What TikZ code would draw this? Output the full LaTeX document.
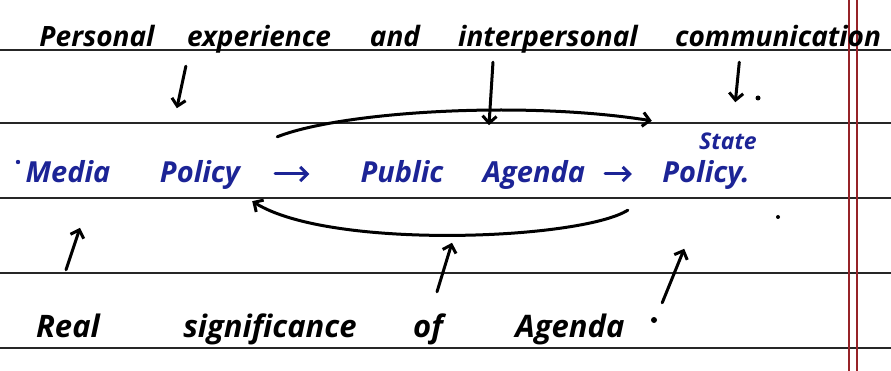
\documentclass[tikz,border=0pt]{standalone}
\usepackage{fontspec}
\setmainfont{Open Sans}
\usetikzlibrary{arrows.meta}
\definecolor{inkblue}{RGB}{28,36,150}
\definecolor{margred}{RGB}{150,35,40}

\tikzset{
	word/.style={inner sep=0pt, anchor=base, text height=22pt, text depth=4pt,
		font=\bfseries\itshape\fontsize{28}{30}\selectfont},
	blueword/.style={word, color=inkblue, font=\bfseries\itshape\fontsize{29}{32}\selectfont},
	bigword/.style={word, font=\bfseries\itshape\fontsize{31}{34}\selectfont},
	pen/.style={line width=3pt, line cap=round, line join=round},
	pen arrow/.style={pen, -{Straight Barb[length=7pt,width=14pt]}},
	rule/.style={line width=1.8pt, color=black!85},
}

\begin{document}
\begin{tikzpicture}[x=1pt,y=-1pt]
		%%%%% START %%%%%
		
		\useasboundingbox[fill=white] (0,0) rectangle (891,371);
		
		% ruled paper
		\foreach \y in {50,123,198,273,348}
			\draw[rule] (0,\y) -- (891,\y);
		\draw[line width=1.3pt, color=margred] (849,0) -- (849,371);
		\draw[line width=1.3pt, color=margred] (857,0) -- (857,371);
		
		% top row
		\node[word, minimum width=110pt] (personal) at (97,47) {Personal};
		\node[word, minimum width=142pt] (experience) at (259,47) {experience};
		\node[word, minimum width=50pt] (and) at (395,47) {and};
		\node[word, minimum width=173pt] (interpersonal) at (548,47) {interpersonal};
		\node[word, minimum width=213pt] (communication) at (778,47) {communication};
		
		% middle row
		\node[blueword, minimum width=63pt] (media) at (68,183) {Media};
		\node[blueword, minimum width=80pt] (policy) at (200,183) {Policy};
		\node[blueword, minimum width=105pt] (public) at (402,183) {Public};
		\node[blueword, minimum width=92pt] (agenda) at (534,183) {Agenda};
		\node[blueword, minimum width=108pt] (statepolicy) at (706,183) {Policy.};
		\node[word, color=inkblue, font=\bfseries\itshape\fontsize{23}{25}\selectfont] (state) at (728,150) {State};
		\fill[inkblue] (18,162) circle (2.2);
		
		% bottom row
		\node[bigword, minimum width=63pt] (real) at (68,337) {Real};
		\node[bigword, minimum width=190pt] (significance) at (270,337) {significance};
		\node[bigword, minimum width=42pt] (of) at (428,337) {of};
		\node[bigword, minimum width=120pt] (agendaB) at (570,337) {Agenda};
		\fill (654,320) circle (3);
		\fill (758,98) circle (2.5);
		\fill (778,217) circle (2);
		
		% arrows in the row
		\draw[pen arrow, color=inkblue, shorten <=35pt, shorten >=40pt] (policy.east) -- (public.west);
		\draw[pen arrow, color=inkblue, shorten <=20pt, shorten >=20pt] (agenda.east) -- (statepolicy.west);
		
		% loops
		\draw[pen arrow] ([shift={(37,-24)}]policy.north east)
			.. controls (340,112) and (520,100) .. ([shift={(0,-40)}]statepolicy.north west);
		\draw[pen arrow] ([shift={(-24,23)}]statepolicy.south west)
			.. controls (580,240) and (330,250) .. ([shift={(12,14)}]policy.south east);
		
		% down arrows
		\draw[pen arrow] ([shift={(-1,15)}]experience.south west) -- ++(-9,42);
		\draw[pen arrow] ([shift={(35,11)}]interpersonal.south west) -- ++(-4,63);
		\draw[pen arrow] ([shift={(68,11)}]communication.south west) -- ++(-4,40);
		
		% up arrows
		\draw[pen arrow] ([shift={(-2,-45)}]real.north) -- ++(14,-42);
		\draw[pen arrow] ([shift={(9,-23)}]of.north) -- ++(15,-49);
		\draw[pen arrow] ([shift={(32,-12)}]agendaB.north east) -- ++(22,-54);
		
		%%%%% END %%%%%
	\end{tikzpicture}
\end{document}
